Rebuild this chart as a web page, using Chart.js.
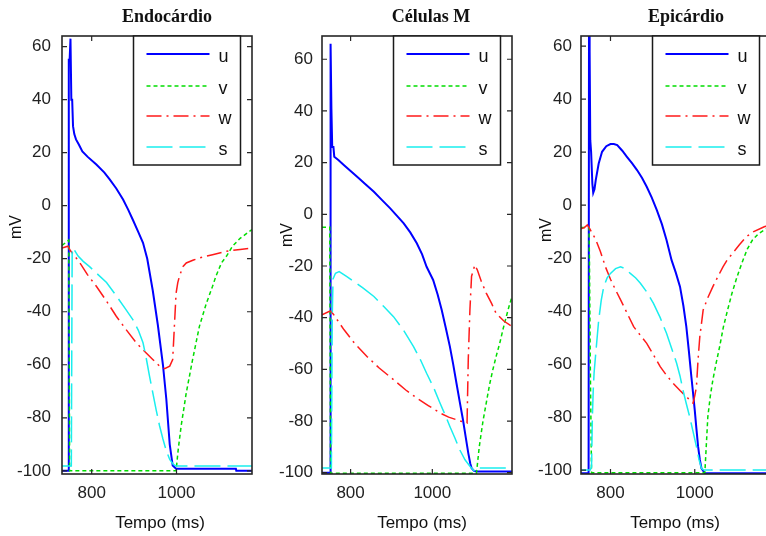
<!DOCTYPE html>
<html>
<head>
<meta charset="utf-8">
<script src="https://cdn.jsdelivr.net/npm/chart.js"></script>
<style>
  body { margin: 0; width: 766px; height: 536px; overflow: hidden; background: #fff; position: relative; }
  canvas { position: absolute; top: 0; }
</style>
</head>
<body>
<canvas id="chartContainer1" width="256" height="536" style="left:0px"></canvas>
<canvas id="chartContainer2" width="256" height="536" style="left:260px"></canvas>
<canvas id="chartContainer3" width="256" height="536" style="left:519px"></canvas>
<script>
// ticks used by all three panels
const yTicks = [-100, -80, -60, -40, -20, 0, 20, 40, 60];
const xTicks = [800, 1000];
const seriesNames = ['u', 'v', 'w', 's'];

// Endocárdio, pairs of [tempo ms, mV]
const endoU = [[730,-100],[745,-100],[746,55],[748,55],[750,63],[752,40],[754,40],[756,30],[759,27],[763,25],[770,23],[778,20.5],[790,18.5],[811,15.5],[830,12.5],[842,10],[858,6.5],[874,2.3],[886,-1.5],[897,-5.3],[910,-10],[921,-14],[931,-20],[944,-32],[956,-45],[968,-60],[976,-73],[984,-90],[991,-98],[999,-99.2],[1140,-99.2],[1141,-100],[1178,-100]];
const endoV = [[730,-15],[746,-13],[748,-100],[999,-100],[1004,-92],[1011,-83],[1023,-70.6],[1038,-58],[1054,-45.5],[1070,-37],[1085,-30.4],[1093,-26.6],[1106,-21.6],[1118,-19],[1132,-15.3],[1150,-12.3],[1178,-9]];
const endoW = [[730,-16],[744,-15.3],[750,-17],[760,-19],[772,-21.5],[790,-26],[811,-30.4],[835,-36],[858,-41.7],[880,-46.5],[905,-51.7],[925,-55],[944,-58],[960,-60.5],[972,-61.5],[984,-60.5],[991,-58],[995,-45.5],[999,-33],[1003,-29],[1007,-26.6],[1015,-23],[1023,-21.6],[1040,-20.5],[1054,-19.7],[1085,-18.5],[1117,-17.2],[1150,-16.5],[1178,-16]];
const endoS = [[730,-98.2],[752,-98.2],[754,-16],[757,-16],[760,-17],[768,-19],[780,-21],[795,-23],[815,-26],[835,-29],[858,-34],[880,-39],[897,-43],[910,-47],[921,-51.7],[928,-57],[936,-64],[944,-70.5],[952,-77],[960,-83],[968,-88],[976,-92.5],[984,-95.7],[992,-97.5],[999,-98.2],[1178,-98.2]];

// Células M
const mU = [[730,-100],[750,-100],[751,66],[753,41],[754,41],[755,26],[758,26],[760,22.3],[770,21],[784,19],[800,16.8],[816,14.5],[835,11.8],[857,8.7],[877,5.5],[897,2.3],[913,-0.5],[930,-3.5],[946,-7],[962,-11.2],[975,-15.5],[986,-20.3],[1002,-25.4],[1013,-31],[1023,-37],[1033,-44],[1043,-51.2],[1051,-58],[1059,-65.3],[1067,-72.5],[1075,-79.5],[1082,-86.5],[1088,-92.4],[1093,-96.5],[1096,-98.2],[1102,-99.3],[1108,-99.5],[1195,-99.5]];
const mV = [[730,-5],[749,-5],[751,-100.2],[1108,-100.2],[1115,-89.8],[1124,-80],[1132,-73],[1140,-66],[1148,-60.2],[1157,-54.5],[1165,-49.9],[1173,-44.5],[1181,-39.6],[1188,-35.5],[1195,-31.8]];
const mW = [[730,-38.9],[747,-37.6],[752,-37.5],[759,-38.9],[770,-41.5],[784,-44.7],[810,-50],[840,-55],[870,-59.5],[905,-64],[935,-68],[962,-71.1],[990,-74],[1019,-76.9],[1040,-78.5],[1059,-79.5],[1085,-80.8],[1088,-56],[1092,-37],[1096,-24],[1104,-19.6],[1110,-21.5],[1120,-26],[1132,-30.5],[1145,-34.5],[1156,-38.3],[1175,-41.3],[1195,-43.4]];
const mS = [[730,-98.2],[753,-98.2],[755,-40],[757,-25],[763,-22.8],[772,-22.2],[790,-24],[808,-26],[830,-28.5],[857,-31.8],[880,-35.5],[905,-39.6],[930,-45],[954,-51.2],[970,-56],[986,-61.5],[1003,-67],[1019,-73.1],[1031,-77.5],[1043,-82.1],[1055,-86.5],[1067,-91.1],[1080,-95],[1092,-97.5],[1104,-99.5],[1110,-98.2],[1195,-98.2]];

// Epicárdio
const epiU = [[730,-101.2],[748,-101.2],[749,70],[750,58],[751,58],[752,24.5],[754,20],[757,8],[759,4.6],[762,6],[765,9.4],[772,15.7],[780,20.1],[790,22.2],[800,23],[808,23],[816,22.6],[828,20.5],[839,18.2],[851,15.8],[863,13.2],[875,10.2],[886,6.9],[898,2.8],[910,-1.9],[922,-7.2],[933,-13.2],[945,-20.8],[955,-25.5],[965,-30.8],[973,-38],[980,-45.9],[986,-55],[992,-64.8],[996,-71],[1000,-77.4],[1004,-84.5],[1008,-91.2],[1012,-96],[1016,-99.4],[1024,-101.2],[1181,-101.2]];
const epiV = [[730,-8.5],[749,-8.5],[750,-20],[752,-60],[755,-101],[1024,-101],[1027,-92],[1031,-80],[1037,-72],[1043,-66],[1051,-59.5],[1059,-53.5],[1068,-46],[1078,-39.6],[1088,-33.5],[1098,-28.3],[1106,-24.5],[1114,-21],[1125,-16.5],[1137,-13.2],[1150,-11],[1165,-9.4],[1181,-8]];
const epiW = [[730,-9],[738,-8.5],[745,-7.5],[751,-9],[757,-10.7],[765,-13],[776,-17.5],[788,-23.3],[800,-28],[812,-32],[824,-35.8],[840,-41],[855,-45.9],[870,-49],[886,-52.2],[902,-56.5],[918,-61],[934,-64.5],[949,-67.3],[965,-70],[980,-72.3],[996,-74.8],[1000,-72],[1004,-68.6],[1008,-58],[1012,-49.7],[1020,-39.6],[1031,-35],[1043,-30.8],[1055,-27],[1067,-23.3],[1078,-20.5],[1090,-18.2],[1106,-15],[1122,-12],[1140,-10],[1165,-8.2],[1181,-7.5]];
const epiS = [[730,-100],[752,-100],[755,-98.8],[757,-80],[759,-70],[761,-63.5],[765,-56],[772,-43.4],[778,-36],[784,-30.8],[792,-27.5],[800,-25.8],[812,-24],[824,-23.3],[835,-24],[847,-25.8],[860,-27.5],[871,-29.5],[887,-33],[902,-37.1],[918,-42.5],[933,-48.4],[945,-54],[957,-59.7],[965,-64.5],[972,-69.8],[980,-75],[988,-79.9],[996,-85.5],[1004,-91.2],[1010,-96],[1016,-99.4],[1022,-100],[1181,-100]];

Chart.defaults.font.family = "'Liberation Sans', Arial, sans-serif";
Chart.defaults.font.size = 17;
Chart.defaults.color = '#222';

function toPoints(pairs) {
  return pairs.map(p => ({ x: p[0], y: p[1] }));
}

// same line styles as the matlab plot: u solid, v dotted, w dash-dot, s dashed
function makeDatasets(u, v, w, s) {
  return [
    { label: seriesNames[0], data: toPoints(u), borderColor: '#0000ff', borderWidth: 2, order: 4 },
    { label: seriesNames[1], data: toPoints(v), borderColor: '#00dd00', borderWidth: 1.5, borderDash: [4, 3], order: 3 },
    { label: seriesNames[2], data: toPoints(w), borderColor: '#ff1a1a', borderWidth: 1.5, borderDash: [15, 5, 2, 5], order: 2 },
    { label: seriesNames[3], data: toPoints(s), borderColor: '#1aeeee', borderWidth: 1.5, borderDash: [26, 7], order: 1 }
  ];
}

// box round the plot with small ticks pointing inwards
const framePlugin = {
  id: 'frame',
  afterDatasetsDraw(chart) {
    const { ctx, chartArea: a } = chart;
    const x = chart.scales.x, y = chart.scales.y;
    ctx.save();
    ctx.strokeStyle = '#262626';
    ctx.lineWidth = 1.2;
    ctx.setLineDash([]);
    ctx.beginPath();
    for (const v of yTicks) {
      const py = y.getPixelForValue(v);
      ctx.moveTo(a.left, py); ctx.lineTo(a.left + 5, py);
      ctx.moveTo(a.right, py); ctx.lineTo(a.right - 5, py);
    }
    for (const v of xTicks) {
      const px = x.getPixelForValue(v);
      ctx.moveTo(px, a.bottom); ctx.lineTo(px, a.bottom - 5);
      ctx.moveTo(px, a.top); ctx.lineTo(px, a.top + 5);
    }
    ctx.stroke();
    ctx.lineWidth = 1.6;
    ctx.strokeRect(a.left, a.top, a.right - a.left, a.bottom - a.top);
    ctx.restore();
  }
};

// legend inside the top right corner, like matlab
const legendBoxPlugin = {
  id: 'legendBox',
  afterDraw(chart) {
    const { ctx, chartArea: a } = chart;
    const w = 107, h = 129;
    const left = a.right - 11.5 - w, top = a.top;
    const rows = [18, 50, 80, 111];
    ctx.save();
    ctx.fillStyle = '#fff';
    ctx.fillRect(left, top, w, h);
    ctx.strokeStyle = '#1a1a1a';
    ctx.lineWidth = 1.5;
    ctx.strokeRect(left, top, w, h);
    chart.data.datasets.forEach((ds, i) => {
      const ly = top + rows[i];
      ctx.beginPath();
      ctx.strokeStyle = ds.borderColor;
      ctx.lineWidth = ds.borderWidth;
      ctx.setLineDash(ds.borderDash || []);
      ctx.moveTo(left + 13, ly);
      ctx.lineTo(left + 76, ly);
      ctx.stroke();
      ctx.setLineDash([]);
      ctx.fillStyle = '#111';
      ctx.font = "18px 'Liberation Sans', Arial, sans-serif";
      ctx.textBaseline = 'middle';
      ctx.textAlign = 'left';
      ctx.fillText(ds.label, left + 85, ly + 3);
    });
    ctx.restore();
  }
};

// panel title and axis names
const panelTextPlugin = {
  id: 'panelText',
  afterDraw(chart, args, opts) {
    const { ctx, chartArea: a } = chart;
    const cx = (a.left + a.right) / 2;
    ctx.save();
    ctx.fillStyle = '#111';
    ctx.textAlign = 'center';
    ctx.font = "bold 18px 'Liberation Serif', 'Times New Roman', serif";
    ctx.textBaseline = 'alphabetic';
    ctx.fillText(opts.title, cx + opts.titleShift, 21.5);
    ctx.font = "17px 'Liberation Sans', Arial, sans-serif";
    ctx.textBaseline = 'middle';
    ctx.fillText('Tempo (ms)', cx + opts.xNameShift, 523);
    ctx.translate(opts.yNameX, opts.yNameY);
    ctx.rotate(-Math.PI / 2);
    ctx.font = "16px 'Liberation Sans', Arial, sans-serif";
    ctx.fillText('mV', 0, 0);
    ctx.restore();
  }
};

function appendPanel(canvasId, datasets, p) {
  let chartContainer = document.getElementById(canvasId);
  let chart = new Chart(chartContainer, {
    type: 'line',
    data: { datasets: datasets },
    options: {
      responsive: false,
      animation: false,
      devicePixelRatio: 1,
      layout: { padding: { top: 36, right: 4, bottom: 0, left: 0 } },
      elements: { point: { radius: 0 }, line: { tension: 0 } },
      scales: {
        x: {
          type: 'linear',
          min: p.xMin,
          max: p.xMax,
          grid: { display: false, drawTicks: false },
          border: { display: false },
          afterBuildTicks: s => { s.ticks = xTicks.map(v => ({ value: v })); },
          afterFit: s => { s.height = 62; },
          ticks: { padding: 9, maxRotation: 0, autoSkip: false, callback: v => String(v) }
        },
        y: {
          type: 'linear',
          min: p.yMin,
          max: p.yMax,
          grid: { display: false, drawTicks: false },
          border: { display: false },
          afterBuildTicks: s => { s.ticks = yTicks.map(v => ({ value: v })); },
          afterFit: s => { s.width = 62; },
          ticks: { padding: p.yPad, autoSkip: false, callback: v => String(v) }
        }
      },
      plugins: {
        legend: { display: false },
        tooltip: { enabled: false },
        panelText: { title: p.title, titleShift: p.titleShift, xNameShift: p.xNameShift, yNameX: p.yNameX, yNameY: p.yNameY }
      }
    },
    plugins: [framePlugin, legendBoxPlugin, panelTextPlugin]
  });
  return chart;
}

appendPanel('chartContainer1', makeDatasets(endoU, endoV, endoW, endoS),
  { title: 'Endocárdio', xMin: 730, xMax: 1178, yMin: -101.2, yMax: 64, yPad: 11, titleShift: 10, xNameShift: 3, yNameX: 17, yNameY: 227 });
appendPanel('chartContainer2', makeDatasets(mU, mV, mW, mS),
  { title: 'Células M', xMin: 730, xMax: 1195, yMin: -100.5, yMax: 69, yPad: 9, titleShift: 14, xNameShift: 5, yNameX: 28, yNameY: 235 });
appendPanel('chartContainer3', makeDatasets(epiU, epiV, epiW, epiS),
  { title: 'Epicárdio', xMin: 730, xMax: 1181, yMin: -101.5, yMax: 63.8, yPad: 9, titleShift: 10, xNameShift: -1, yNameX: 28, yNameY: 230 });
</script>
</body>
</html>
